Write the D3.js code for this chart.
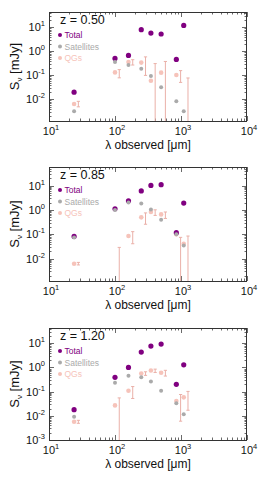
<!DOCTYPE html>
<html><head><meta charset="utf-8">
<script src="https://cdn.jsdelivr.net/npm/d3@7"></script>
<style>body{margin:0;background:#fff;} svg{display:block;font-family:"Liberation Sans",Arial,sans-serif;}</style>
</head><body>
<script>
// ---- data ----
const wavelengths = [24, 100, 160, 250, 350, 500, 850, 1100];
const redshifts = ["0.50", "0.85", "1.20"];
const seriesNames = ["Total", "Satellites", "QGs"];
const totalFlux = [
  [0.020, 0.51, 0.68, 8.0, 5.8, 5.3, 0.46, 12],
  [0.082, 1.13, 2.4, 6.1, 10.3, 11, 0.117, 1.94],
  [0.018, 0.39, 1.0, 4.3, 7.6, 9.2, 0.20, 1.28]
];
const satelliteFlux = [
  [0.0032, 0.36, 0.27, 0.19, 0.094, 0.032, 0.0083, 0.0032],
  [0.074, 1.0, 2.05, 1.87, 1.05, 0.40, 0.10, 0.035],
  [0.0091, 0.23, 0.45, 0.39, 0.26, 0.108, 0.033, 0.0115]
];
const qgFlux = [
  [0.0064, 0.133, 0.36, 0.34, 0.060, 0.13, 0.104, null],
  [0.0062, null, 0.085, 0.50, 0.83, 0.66, 0.10, 0.041],
  [0.0057, 0.027, 0.108, 0.565, 0.75, 0.60, 0.041, 0.058]
];
// upper / lower ends of QG error bars (null lower = below axis)
const qgErrHi = [
  [0.0083, 0.174, 0.45, 0.59, 0.31, 0.38, 0.158, 0.078],
  [0.0070, 0.029, 0.129, 0.76, 1.02, 0.83, 0.075, 0.085],
  [0.0065, 0.055, 0.162, 0.66, 0.85, 0.76, 0.076, 0.102]
];
const qgErrLo = [
  [0.0049, 0.079, 0.27, 0.10, null, null, 0.051, null],
  [0.0055, null, 0.041, 0.26, 0.60, 0.45, null, null],
  [0.0049, null, 0.052, 0.47, 0.62, 0.44, 0.006, 0.017]
];
const yLabelExps = [[1, 0, -1, -2], [1, 0, -1, -2], [1, 0, -1, -2, -3]];
const xTickExps = [1, 2, 3, 4];

// ---- layout / style ----
const W = 271, H = 481;
const left = 49, right = 247;
const panelTop = [12, 167, 328], panelBottom = [121, 281, 440];
const yExpDomain = [[-2.90, 1.64], [-2.92, 1.77], [-3.0, 1.63]];
const colors = {Total: "#800080", Satellites: "#aaaaaa", QGs: "#f6c3ba"};
const errColor = "#eab0a8";
const errShift = 1.16;

const svg = d3.select("body").append("svg").attr("width", W).attr("height", H);
const defs = svg.append("defs");

redshifts.forEach((z, p) => {
  const top = panelTop[p], bot = panelBottom[p];
  const x = d3.scaleLog().domain([10, 1e4]).range([left, right]);
  const y = d3.scaleLog().domain([Math.pow(10, yExpDomain[p][0]), Math.pow(10, yExpDomain[p][1])]).range([bot, top]);
  const g = svg.append("g");
  const cid = "clip" + p;
  defs.append("clipPath").attr("id", cid).append("rect")
    .attr("x", left).attr("y", top).attr("width", right - left).attr("height", bot - top);

  // ticks
  const ticks = g.append("g").attr("stroke", "#444").attr("stroke-width", 0.8);
  x.ticks().forEach(t => {
    const major = Math.abs(Math.log10(t) - Math.round(Math.log10(t))) < 1e-9;
    const len = major ? 5 : 2.5;
    const px = Math.round(x(t)) + 0.5;
    ticks.append("line").attr("x1", px).attr("x2", px).attr("y1", bot).attr("y2", bot - len);
    ticks.append("line").attr("x1", px).attr("x2", px).attr("y1", top).attr("y2", top + len);
  });
  y.ticks().forEach(t => {
    const major = Math.abs(Math.log10(t) - Math.round(Math.log10(t))) < 1e-9;
    const len = major ? 5 : 2.5;
    const py = Math.round(y(t)) + 0.5;
    ticks.append("line").attr("x1", left).attr("x2", left + len).attr("y1", py).attr("y2", py);
    ticks.append("line").attr("x1", right).attr("x2", right - len).attr("y1", py).attr("y2", py);
  });
  g.append("rect").attr("x", left + 0.5).attr("y", top + 0.5).attr("width", right - left - 1).attr("height", bot - top)
    .attr("fill", "none").attr("stroke", "#333").attr("stroke-width", 1);

  // tick labels
  yLabelExps[p].forEach(e => {
    const t = g.append("text").attr("x", 45).attr("y", y(Math.pow(10, e)) + 4)
      .attr("text-anchor", "end").attr("font-size", 11).attr("fill", "#111");
    t.append("tspan").text("10");
    t.append("tspan").attr("dy", -5).attr("font-size", 7.5).text(e);
  });
  xTickExps.forEach(e => {
    const t = g.append("text").attr("x", x(Math.pow(10, e)) + 2).attr("y", bot + 14)
      .attr("text-anchor", "middle").attr("font-size", 11).attr("fill", "#111");
    t.append("tspan").text("10");
    t.append("tspan").attr("dy", -5).attr("font-size", 7.5).text(e);
  });
  // axis titles
  g.append("text").attr("x", (left + right) / 2).attr("y", bot + 27.5).attr("text-anchor", "middle")
    .attr("font-size", 12).attr("fill", "#111").text("λ observed [μm]");
  const yl = g.append("text").attr("transform", `translate(19,${(top + bot) / 2}) rotate(-90)`)
    .attr("text-anchor", "middle").attr("font-size", 13).attr("fill", "#111");
  yl.append("tspan").text("S");
  yl.append("tspan").attr("dy", 3).attr("font-size", 8).text("ν");
  yl.append("tspan").attr("dy", -3).text(" [mJy]");

  // z label
  g.append("text").attr("x", 60).attr("y", top + 11.5).attr("font-size", 12.5).attr("fill", "#111").text("z = " + z);

  // legend
  seriesNames.forEach((s, i) => {
    const ly = top + 23 + i * 11.5;
    g.append("circle").attr("cx", 60).attr("cy", ly).attr("r", 2).attr("fill", colors[s]);
    g.append("text").attr("x", 64.5).attr("y", ly + 3).attr("font-size", 8.5)
      .attr("fill", colors[s]).text(s);
  });

  const data = g.append("g").attr("clip-path", `url(#${cid})`);
  // error bars
  wavelengths.forEach((w, i) => {
    const hi = qgErrHi[p][i], lo = qgErrLo[p][i];
    const ex = x(w * errShift);
    const yHi = y(hi), yLo = lo === null ? bot + 5 : y(lo);
    data.append("line").attr("x1", ex).attr("x2", ex).attr("y1", yHi).attr("y2", yLo)
      .attr("stroke", errColor).attr("stroke-width", 1);
    data.append("line").attr("x1", ex - 1.6).attr("x2", ex + 1.6).attr("y1", yHi).attr("y2", yHi)
      .attr("stroke", errColor).attr("stroke-width", 1);
    if (lo !== null) data.append("line").attr("x1", ex - 1.6).attr("x2", ex + 1.6).attr("y1", yLo).attr("y2", yLo)
      .attr("stroke", errColor).attr("stroke-width", 1);
  });
  const drawDots = (vals, color, r) => {
    wavelengths.forEach((w, i) => {
      const v = vals[i];
      if (v === null) return;
      data.append("circle").attr("cx", x(w)).attr("cy", y(v)).attr("r", r).attr("fill", color);
    });
  };
  drawDots(qgFlux[p], colors.QGs, 2.3);
  drawDots(totalFlux[p], colors.Total, 2.6);
  drawDots(satelliteFlux[p], colors.Satellites, 2.0);
});
</script>
</body></html>
